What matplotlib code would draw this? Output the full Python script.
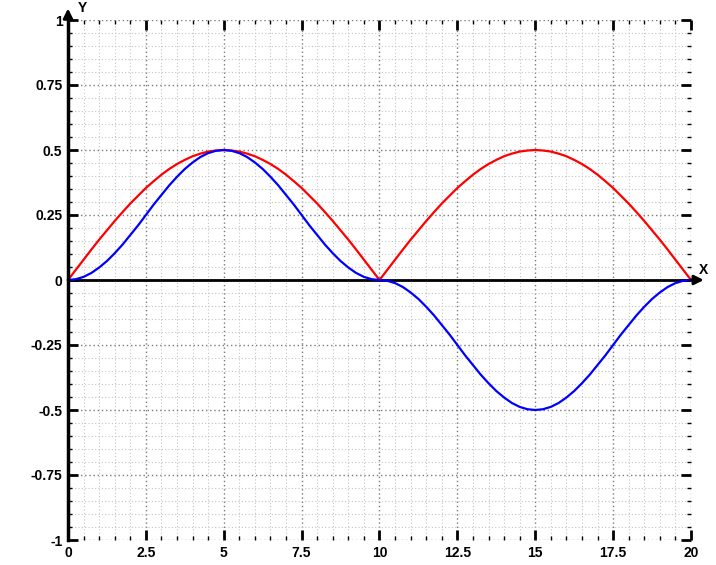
import matplotlib.pyplot as plt
from matplotlib.ticker import MultipleLocator, FixedLocator, FixedFormatter

# values, x from 0 to 20 in steps of 0.25
x = [i * 0.25 for i in range(81)]
red_rise = [0, 0.039, 0.078, 0.117, 0.155, 0.191, 0.227, 0.261, 0.294, 0.324, 0.354,
            0.380, 0.405, 0.427, 0.446, 0.462, 0.476, 0.486, 0.494, 0.498]
blue_rise = [0, 0.003, 0.012, 0.027, 0.048, 0.073, 0.103, 0.136, 0.173, 0.210, 0.25,
             0.290, 0.327, 0.364, 0.397, 0.427, 0.452, 0.473, 0.488, 0.497]
red_hump = red_rise + [0.5] + red_rise[::-1][:-1]
blue_hump = blue_rise + [0.5] + blue_rise[::-1][:-1]
red = red_hump + red_hump + [0]
blue = blue_hump + [-v for v in blue_hump] + [0]

x_ticks = [0, 2.5, 5, 7.5, 10, 12.5, 15, 17.5, 20]
x_labels = ['0', '2.5', '5', '7.5', '10', '12.5', '15', '17.5', '20']
y_ticks = [-1, -0.75, -0.5, -0.25, 0, 0.25, 0.5, 0.75, 1]
y_labels = ['-1', '-0.75', '-0.5', '-0.25', '0', '0.25', '0.5', '0.75', '1']

plt.rcParams['font.family'] = ['Liberation Sans', 'DejaVu Sans']

fig = plt.figure(figsize=(7.16, 5.65), dpi=100)
ax = fig.add_axes([68 / 716, 25 / 565, 623 / 716, 520 / 565])
ax.set_xlim(0, 20)
ax.set_ylim(-1, 1)

# grid
ax.xaxis.set_major_locator(FixedLocator(x_ticks))
ax.xaxis.set_major_formatter(FixedFormatter(x_labels))
ax.yaxis.set_major_locator(FixedLocator(y_ticks))
ax.yaxis.set_major_formatter(FixedFormatter(y_labels))
ax.xaxis.set_minor_locator(MultipleLocator(0.5))
ax.yaxis.set_minor_locator(MultipleLocator(0.05))
ax.grid(which='major', color='#7a7a7a', linestyle=(0, (1, 2)), linewidth=1.0)
ax.grid(which='minor', color='#c4c4c4', linestyle=(0, (1, 2)), linewidth=0.8)
ax.set_axisbelow(True)

for side in ['top', 'right', 'bottom']:
    ax.spines[side].set_visible(False)
ax.spines['left'].set_linewidth(2.5)

ax.tick_params(which='major', direction='in', length=7, width=2,
               top=True, right=True, labelsize=10, pad=4)
ax.tick_params(which='minor', direction='in', length=3, width=1,
               top=True, right=True)
for lab in ax.get_xticklabels() + ax.get_yticklabels():
    lab.set_fontweight('bold')

# x axis line with arrows
ax.axhline(0, color='black', linewidth=2)
ax.annotate('', xy=(20.5, 0), xytext=(19.9, 0), annotation_clip=False,
            arrowprops=dict(arrowstyle='-|>', color='black', lw=2, mutation_scale=14))
ax.annotate('', xy=(0, 1.055), xytext=(0, 0.99), annotation_clip=False,
            arrowprops=dict(arrowstyle='-|>', color='black', lw=2, mutation_scale=14))
ax.text(20.4, 0.04, 'X', fontsize=10, fontweight='bold', ha='center', va='center')
ax.text(0.45, 1.045, 'Y', fontsize=10, fontweight='bold', ha='center', va='center')

ax.plot(x, red, color='#ff0000', linewidth=1.6, clip_on=False)
ax.plot(x, blue, color='#0000ff', linewidth=1.6, clip_on=False)

plt.savefig('out.png', dpi=100)
